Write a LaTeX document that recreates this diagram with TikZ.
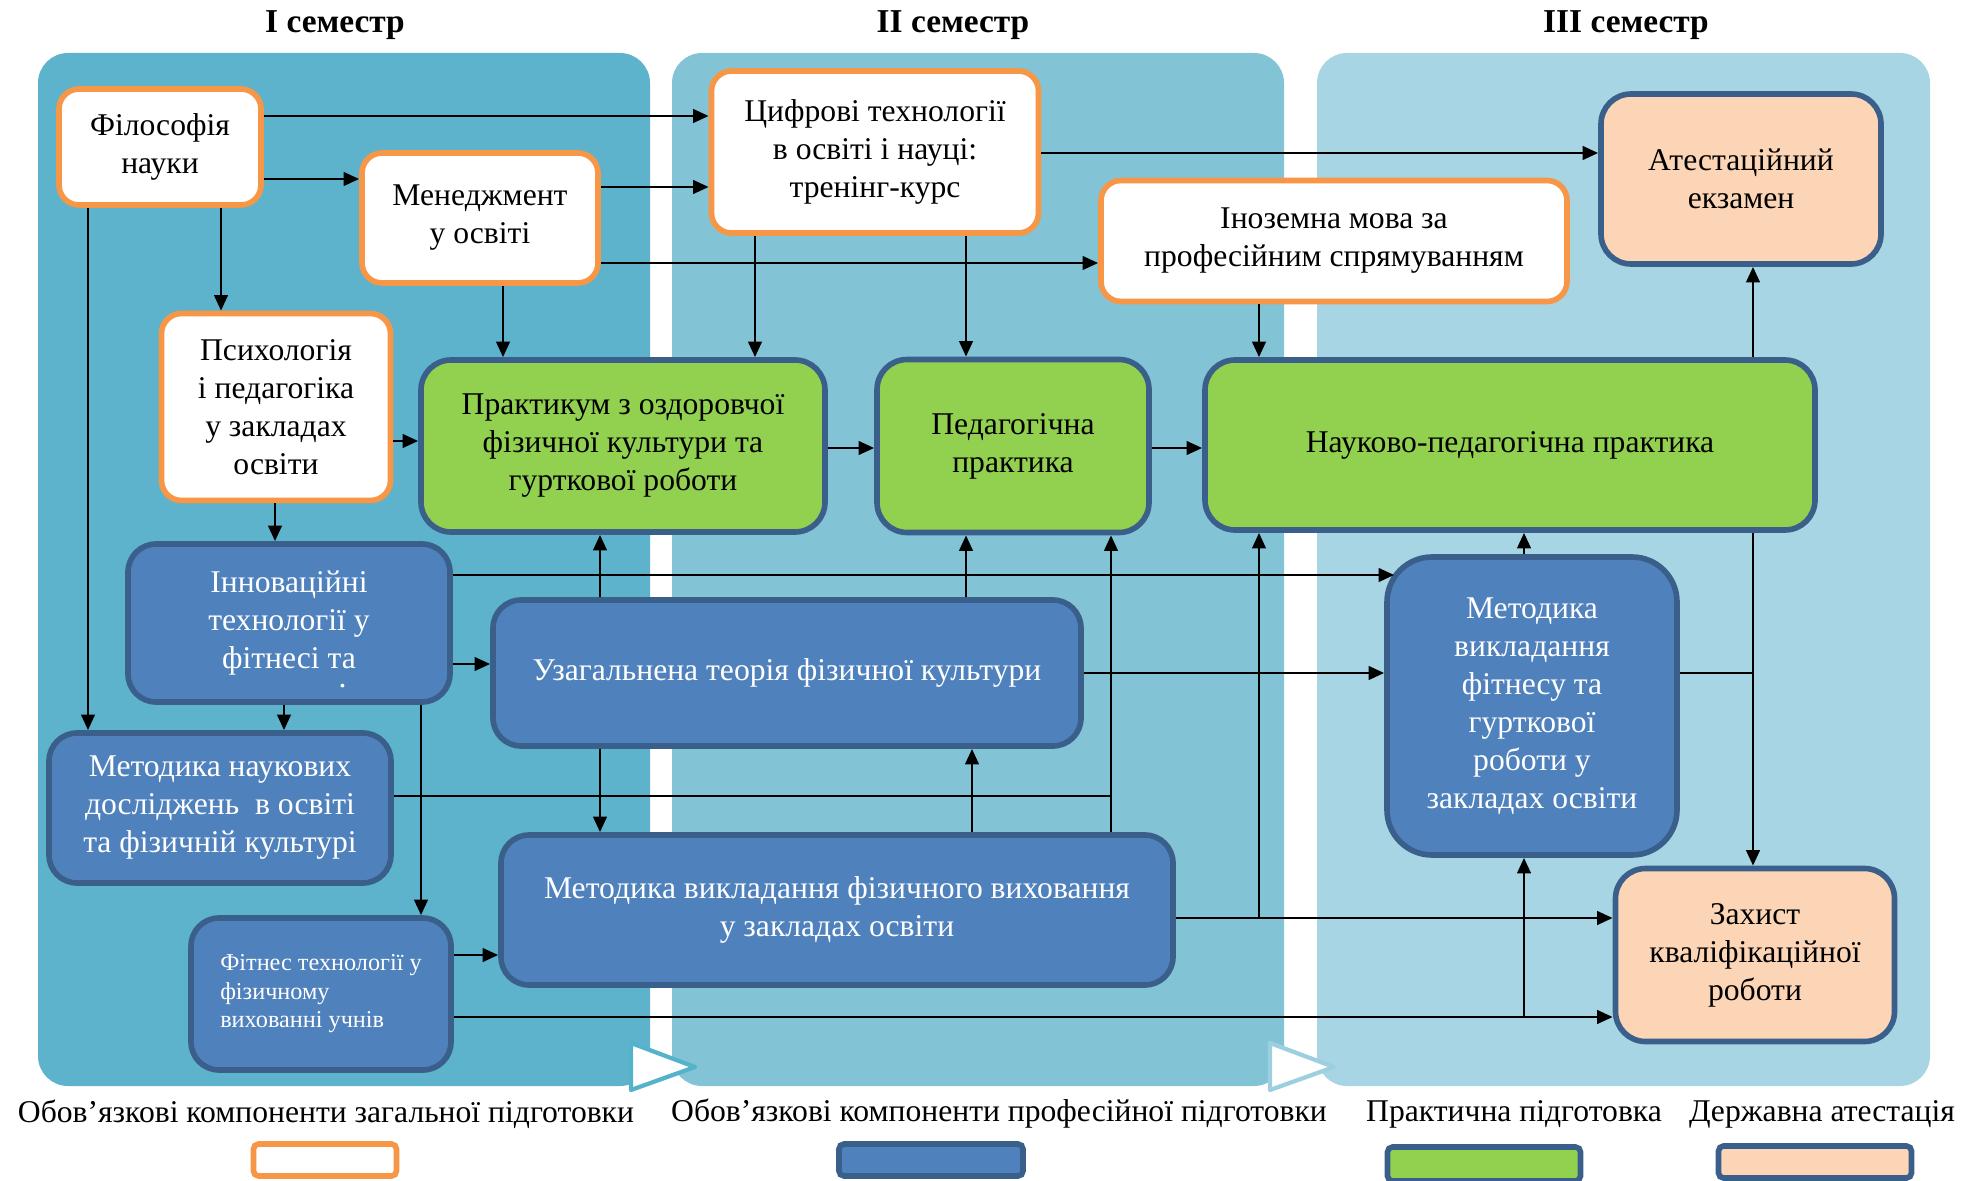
\documentclass[tikz,border=0pt]{standalone}
\usepackage{fontspec}
\setmainfont{Liberation Serif}
\usetikzlibrary{arrows.meta}

\definecolor{semone}{HTML}{5DB3CB}
\definecolor{semtwo}{HTML}{82C4D6}
\definecolor{semthree}{HTML}{A7D5E3}
\definecolor{chevone}{HTML}{55B2CB}
\definecolor{chevtwo}{HTML}{9CD0E0}
\definecolor{genorange}{HTML}{F79646}
\definecolor{profblue}{HTML}{4F81BD}
\definecolor{darkedge}{HTML}{3A5F8B}
\definecolor{pracgreen}{HTML}{92D050}
\definecolor{attpeach}{HTML}{FBD5B5}

\tikzset{
  genbox/.style={draw=genorange, fill=white, line width=1.6pt, rounded corners=0.2cm,
    align=center, inner sep=0pt, font=\fontsize{9}{10.8}\selectfont},
  probox/.style={draw=darkedge, fill=profblue, text=white, line width=1.6pt, rounded corners=0.28cm,
    align=center, inner sep=0pt, font=\fontsize{9}{10.8}\selectfont},
  pracbox/.style={draw=darkedge, fill=pracgreen, line width=1.6pt, rounded corners=0.3cm,
    align=center, inner sep=0pt, font=\fontsize{9}{10.8}\selectfont},
  attbox/.style={draw=darkedge, fill=attpeach, line width=1.6pt, rounded corners=0.3cm,
    align=center, inner sep=0pt, font=\fontsize{9}{10.8}\selectfont},
  arr/.style={-{Triangle[length=4.4pt,width=3.8pt]}, line width=0.8pt},
  link/.style={line width=0.8pt},
  sem/.style={font=\bfseries\fontsize{9.5}{11}\selectfont},
  legtext/.style={inner sep=0pt, font=\fontsize{9}{10.8}\selectfont},
}

\begin{document}
\begin{tikzpicture}
  \useasboundingbox (0,0) rectangle (19.8,-11.81);

  % Semester panels
  \fill[semone, rounded corners=0.3cm] (0.38,-0.53) rectangle (6.50,-10.86);
  \fill[semtwo, rounded corners=0.3cm] (6.72,-0.53) rectangle (12.84,-10.86);
  \fill[semthree, rounded corners=0.3cm] (13.17,-0.53) rectangle (19.30,-10.86);
  \filldraw[fill=white, draw=chevone, line width=1.2pt, line join=round]
    (6.31,-10.43) -- (6.95,-10.67) -- (6.31,-10.90) -- cycle;
  \filldraw[fill=white, draw=chevtwo, line width=1.2pt, line join=round]
    (12.70,-10.43) -- (13.34,-10.67) -- (12.70,-10.90) -- cycle;

  % Semester titles
  \node[sem] (s1) at (3.35,-0.25) {І семестр};
  \node[sem] (s2) at (9.53,-0.25) {ІІ семестр};
  \node[sem] (s3) at (16.26,-0.25) {ІІІ семестр};

  % General components
  \node[genbox, minimum width=2.02cm, minimum height=1.16cm] (fil) at (1.60,-1.47) {Філософія\\науки};
  \node[genbox, minimum width=2.36cm, minimum height=1.30cm] (men) at (4.80,-2.18) {Менеджмент\\у освіті};
  \node[genbox, minimum width=2.29cm, minimum height=1.87cm] (psy) at (2.76,-4.07) {Психологія\\і педагогіка\\у закладах\\освіти};
  \node[genbox, minimum width=3.27cm, minimum height=1.62cm] (dig) at (8.75,-1.52) {Цифрові технології\\в освіті і науці:\\тренінг-курс};
  \node[genbox, minimum width=4.66cm, minimum height=1.21cm] (lang) at (13.34,-2.41) {Іноземна мова за\\професійним спрямуванням};

  % Practice
  \node[pracbox, minimum width=4.04cm, minimum height=1.72cm] (prak) at (6.23,-4.46) {Практикум з оздоровчої\\фізичної культури та\\гурткової роботи};
  \node[pracbox, minimum width=2.72cm, minimum height=1.73cm] (ped) at (10.13,-4.46) {Педагогічна\\практика};
  \node[pracbox, minimum width=6.10cm, minimum height=1.70cm] (nauk) at (15.10,-4.45) {Науково-педагогічна практика};

  % Professional components
  \node[probox, minimum width=3.22cm, minimum height=1.58cm] (inno) at (2.89,-6.23)
    {Інноваційні\\технології у\\фітнесі та\rlap{\smash{\raisebox{-0.6em}{\kern-0.55em.}}}};
  \node[probox, minimum width=5.88cm, minimum height=1.46cm] (theo) at (7.87,-6.73) {Узагальнена теорія фізичної культури};
  \node[probox, minimum width=3.42cm, minimum height=1.50cm] (meth) at (2.20,-8.08) {Методика наукових\\досліджень~ в освіті\\та фізичній культурі};
  \node[probox, minimum width=6.72cm, minimum height=1.50cm] (teach) at (8.37,-9.10) {Методика викладання фізичного виховання\\у закладах освіти};
  \node[probox, minimum width=2.60cm, minimum height=1.52cm, align=left, font=\fontsize{6.9}{8.1}\selectfont]
    (fit) at (3.21,-9.94) {Фітнес технології у\\фізичному\\вихованні учнів};
  \node[probox, minimum width=2.90cm, minimum height=2.98cm, rounded corners=0.45cm] (mfit) at (15.32,-7.06) {Методика\\викладання\\фітнесу та\\гурткової\\роботи у\\закладах освіти};

  % State attestation
  \node[attbox, minimum width=2.80cm, minimum height=1.70cm] (exam) at (17.41,-1.79) {Атестаційний\\екзамен};
  \node[attbox, minimum width=2.79cm, minimum height=1.73cm] (def) at (17.55,-9.55) {Захист\\кваліфікаційної\\роботи};

  % Junctions
  \coordinate (jdef) at (17.53,-6.73);
  \coordinate (jped) at (11.11,-7.96);
  \coordinate (jnauk) at (12.59,-9.18);
  \coordinate (jmfit) at (15.24,-10.17);

  % Edges from general components
  \draw[arr] (fil.east |- 0,-1.16) -- (dig.west |- 0,-1.16);
  \draw[arr] (fil.east |- 0,-1.79) -- (men.west |- 0,-1.79);
  \draw[arr] (fil.south -| 2.21,0) -- (psy.north -| 2.21,0);
  \draw[arr] (fil.south -| 0.88,0) -- (meth.north -| 0.88,0);
  \draw[arr] (men.east |- 0,-1.87) -- (dig.west |- 0,-1.87);
  \draw[arr] (men.east |- 0,-2.63) -- (lang.west |- 0,-2.63);
  \draw[arr] (men.south -| 5.03,0) -- (prak.north -| 5.03,0);
  \draw[arr] (dig.east |- 0,-1.53) -- (exam.west |- 0,-1.53);
  \draw[arr] (dig.south -| 7.55,0) -- (prak.north -| 7.55,0);
  \draw[arr] (dig.south -| 9.66,0) -- (ped.north -| 9.66,0);
  \draw[arr] (lang.south -| 12.59,0) -- (nauk.north -| 12.59,0);
  \draw[arr] (psy.east |- 0,-4.41) -- (prak.west |- 0,-4.41);
  \draw[arr] (psy.south -| 2.75,0) -- (inno.north -| 2.75,0);

  % Edges between practices
  \draw[arr] (prak.east |- 0,-4.48) -- (ped.west |- 0,-4.48);
  \draw[arr] (ped.east |- 0,-4.48) -- (nauk.west |- 0,-4.48);
  \draw[arr] (nauk.north -| jdef) -- (exam.south -| jdef);
  \draw[arr] (nauk.south -| jdef) -- (def.north -| jdef);
  \draw[link] (mfit.east |- jdef) -- (jdef);
  \draw[arr] (mfit.north -| jmfit) -- (nauk.south -| jmfit);

  % Edges from professional components
  \draw[arr, shorten >=-1mm] (inno.east |- 0,-5.75) -- (mfit.west |- 0,-5.75);
  \draw[arr] (inno.east |- 0,-6.64) -- (theo.west |- 0,-6.64);
  \draw[arr] (inno.south -| 2.84,0) -- (meth.north -| 2.84,0);
  \draw[arr] (inno.south -| 4.21,0) -- (fit.north -| 4.21,0);
  \draw[arr] (theo.north -| 6.00,0) -- (prak.south -| 6.00,0);
  \draw[arr] (theo.north -| 9.66,0) -- (ped.south -| 9.66,0);
  \draw[arr] (theo.south -| 6.00,0) -- (teach.north -| 6.00,0);
  \draw[arr] (theo.east |- 0,-6.73) -- (mfit.west |- 0,-6.73);
  \draw[link] (meth.east |- jped) -- (jped);
  \draw[arr] (teach.north -| 9.72,0) -- (theo.south -| 9.72,0);
  \draw[arr] (teach.north -| jped) -- (ped.south -| jped);
  \draw[arr] (teach.east |- jnauk) -- (def.west |- jnauk);
  \draw[arr] (jnauk) -- (nauk.south -| jnauk);
  \draw[arr] (fit.east |- 0,-9.55) -- (teach.west |- 0,-9.55);
  \draw[arr] (fit.east |- jmfit) -- (def.west |- jmfit);
  \draw[arr] (jmfit) -- (mfit.south -| jmfit);

  % Legend
  \node[legtext] (l1) at (3.26,-11.14) {Обов’язкові компоненти загальної підготовки};
  \node[legtext] (l2) at (9.99,-11.14) {Обов’язкові компоненти професійної підготовки};
  \node[legtext] (l3) at (15.14,-11.14) {Практична підготовка};
  \node[legtext] (l4) at (18.22,-11.14) {Державна атестація};
  \node[genbox, rounded corners=0.05cm, minimum width=1.43cm, minimum height=0.32cm] (k1) at (3.25,-11.60) {};
  \node[probox, rounded corners=0.05cm, minimum width=1.84cm, minimum height=0.32cm] (k2) at (9.31,-11.60) {};
  \node[pracbox, rounded corners=0.05cm, minimum width=1.93cm, minimum height=0.34cm] (k3) at (14.84,-11.64) {};
  \node[attbox, rounded corners=0.05cm, minimum width=1.93cm, minimum height=0.32cm] (k4) at (18.15,-11.62) {};
\end{tikzpicture}
\end{document}
